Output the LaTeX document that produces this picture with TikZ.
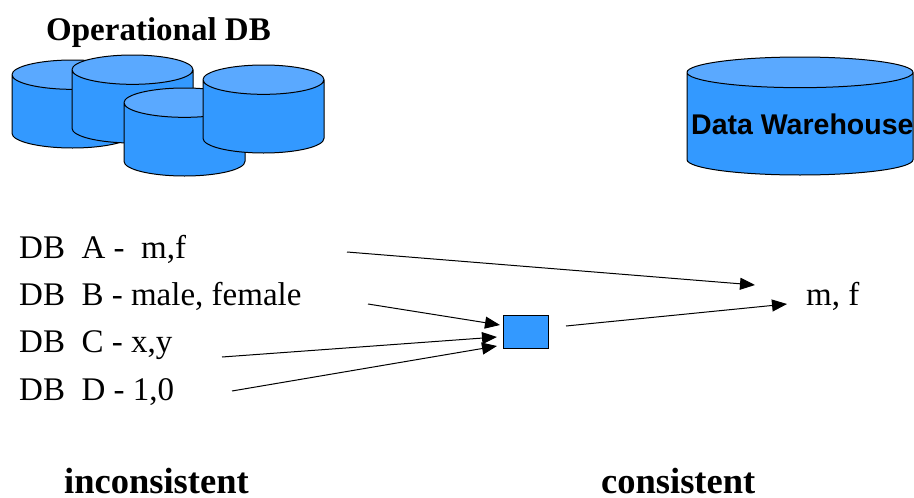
\documentclass[tikz,border=0pt]{standalone}
\usepackage{fontspec}
\setmainfont{Liberation Serif}
\setsansfont{Liberation Sans}
\usetikzlibrary{arrows.meta, positioning, shapes.geometric}
\definecolor{colorBody}{HTML}{3399FF}
\definecolor{colorTop}{HTML}{5AA9FF}
\tikzset{
  dbcyl/.style={cylinder, shape border rotate=90, draw=black, line width=1pt, outer sep=0pt, anchor=bottom,
    cylinder uses custom fill, cylinder body fill=colorBody, cylinder end fill=colorTop,
    minimum width=121pt, minimum height=88pt, aspect=4.4},
  dbline/.style={font=\fontsize{33}{33}\selectfont, inner sep=0pt, anchor=base west},
  heading/.style={font=\fontsize{33}{33}\selectfont\bfseries, inner sep=0pt, anchor=base west},
  verdict/.style={heading, font=\fontsize{36.5}{36.5}\selectfont\bfseries},
  flow/.style={-{Triangle[length=15pt,width=12pt]}, line width=1pt}
}
\begin{document}
\begin{tikzpicture}[x=1pt, y=-1pt]
\useasboundingbox (0,0) rectangle (914,498);
\node[heading] (opdb) at (46,40) {Operational DB};
\node[dbcyl] (dba) at (72.5,148) {};
\node[dbcyl] (dbb) at (132.5,143) {};
\node[dbcyl] (dbc) at (184.5,176) {};
\node[dbcyl] (dbd) at (263.5,153) {};
\node[dbcyl, minimum width=226pt, minimum height=118pt, aspect=4.6] (dw) at (800,175) {};
\node[font=\fontsize{28.5}{28.5}\selectfont\sffamily\bfseries, inner sep=0pt, anchor=base west] (dwlabel) at (691,134) {Data Warehouse};
\node[dbline] (linea) at (19,258) {DB\ \ A -\ \ m,f};
\node[dbline, below=47pt of linea.base west, anchor=base west] (lineb) {DB\ \ B - male, female};
\node[dbline, below=47pt of lineb.base west, anchor=base west] (linec) {DB\ \ C - x,y};
\node[dbline, below=48pt of linec.base west, anchor=base west] (lined) {DB\ \ D - 1,0};
\node[dbline] (mf) at (806,305) {m, f};
\node[draw=black, fill=colorBody, line width=1pt, minimum width=45pt, minimum height=33pt, inner sep=0pt, outer sep=0pt] (conv) at (525.5,331.5) {};
\node[verdict] (incons) at (64,493) {inconsistent};
\node[verdict] (cons) at (601,493) {consistent};
\coordinate (fromA) at (347,252);
\coordinate (toA) at (755,285);
\coordinate (fromB) at (368,304);
\coordinate (toB) at (500,325);
\coordinate (fromC) at (222,357);
\coordinate (toC) at (497,337);
\coordinate (fromD) at (232,391);
\coordinate (toD) at (497,346);
\coordinate (fromConv) at (566,326);
\coordinate (toConv) at (787,304);
\draw[flow] (fromA) -- (toA);
\draw[flow] (fromB) -- (toB);
\draw[flow] (fromC) -- (toC);
\draw[flow] (fromD) -- (toD);
\draw[flow] (fromConv) -- (toConv);
\end{tikzpicture}
\end{document}
